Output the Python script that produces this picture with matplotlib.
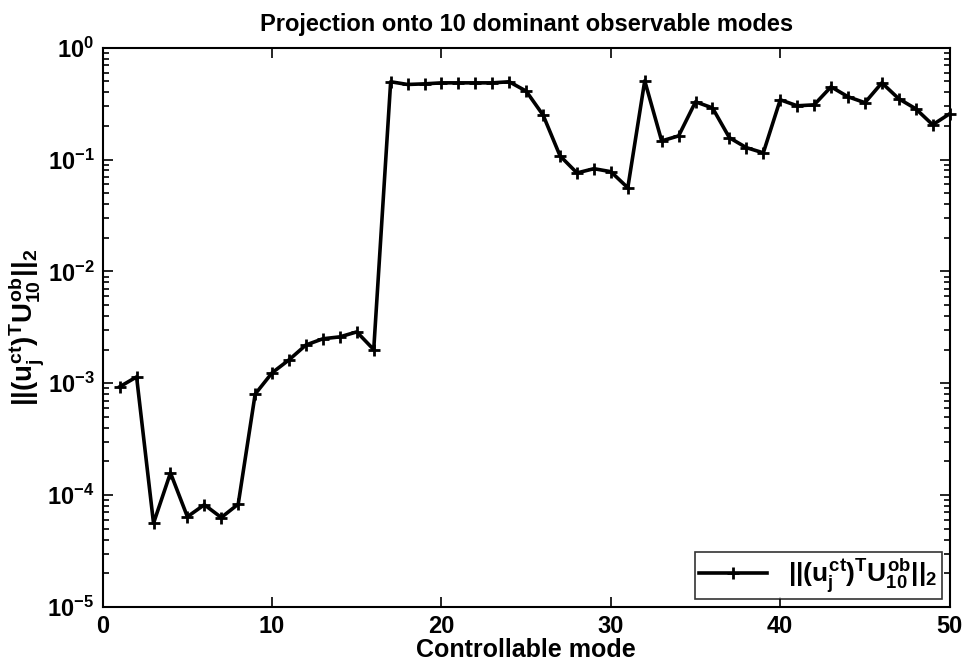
import matplotlib
matplotlib.use("Agg")
import matplotlib.pyplot as plt
import numpy as np

# controllable mode index and projection norm
modes = list(range(1, 51))
proj = [9.3e-4, 1.14e-3, 5.6e-5, 1.58e-4, 6.4e-5, 8.2e-5, 6.3e-5, 8.3e-5, 8.0e-4, 1.24e-3,
        1.62e-3, 2.2e-3, 2.5e-3, 2.6e-3, 2.88e-3, 2.0e-3, 0.497, 0.47, 0.476, 0.486,
        0.486, 0.486, 0.486, 0.497, 0.41, 0.25, 0.108, 0.076, 0.083, 0.078,
        0.056, 0.507, 0.147, 0.163, 0.329, 0.29, 0.157, 0.128, 0.115, 0.343,
        0.303, 0.309, 0.448, 0.365, 0.323, 0.486, 0.35, 0.285, 0.205, 0.257]
xticks = [0, 10, 20, 30, 40, 50]

plt.rcParams['font.family'] = ['Liberation Sans', 'DejaVu Sans']
plt.rcParams['font.weight'] = 'bold'
plt.rcParams['mathtext.fontset'] = 'custom'
plt.rcParams['mathtext.rm'] = 'Liberation Sans:bold'
plt.rcParams['mathtext.it'] = 'Liberation Sans:bold'
plt.rcParams['mathtext.bf'] = 'Liberation Sans:bold'

fig = plt.figure(figsize=(9.69, 6.64), dpi=100)
ax = fig.add_axes([0.106, 0.086, 0.874, 0.842])

label = r'$||(u_j^{ct})^T U_{10}^{ob}||_2$'
ax.semilogy(modes, proj, color='black', lw=2.6, marker='+', ms=8, mew=2,
            label=label, clip_on=False, zorder=5)

ax.set_xlim(0, 50)
ax.set_ylim(1e-5, 1)
ax.set_xticks(xticks)
ax.tick_params(which='both', direction='in', top=True, right=True, labelsize=17, width=1.2)
ax.tick_params(which='major', length=7, pad=6)
ax.tick_params(which='minor', length=4)
for lab in ax.get_xticklabels() + ax.get_yticklabels():
    lab.set_fontweight('bold')
for s in ax.spines.values():
    s.set_linewidth(1.5)

ax.set_title("Projection onto 10 dominant observable modes", fontsize=17, fontweight='bold', pad=12)
ax.set_xlabel("Controllable mode", fontsize=18, fontweight='bold', labelpad=0)
ax.set_ylabel(label, fontsize=20, labelpad=0)
ax.yaxis.set_label_coords(-0.067, 0.5)

leg = ax.legend(loc='lower right', fontsize=19, frameon=True, fancybox=False,
                edgecolor='black', borderaxespad=0.3, handlelength=2.6,
                borderpad=0.15, handletextpad=0.8)
leg.get_frame().set_linewidth(1.2)

fig.savefig('out.png', dpi=100)
